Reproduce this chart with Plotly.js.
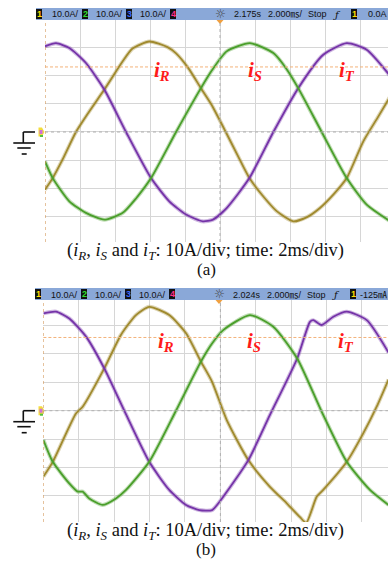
<!DOCTYPE html>
<html>
<head>
<meta charset="utf-8">
<script src="https://cdn.plot.ly/plotly-3.0.1.min.js"></script>
<style>
html, body { margin: 0; padding: 0; background: #fff; }
#plot { width: 388px; height: 565px; }
</style>
</head>
<body>
<div id="plot"></div>
<script>
// ---- Captured phase currents, 10 A/div, 2 ms/div (time in ms, current in A) ----
// Capture (a)
const tR_a = [-10, -9.56, -9, -8.23, -7.5, -6.61, -5.56, -5, -4.04, -3, -2.51, -1.8, -1.09, -0.5, 0.33, 1, 1.68, 2.5, 3.24, 4.19, 5, 5.71, 6.5, 7.24, 8.19, 9, 9.7];
const iR_a = [-20.4, -16.3, -9.8, 0, 7, 15, 25, 29.5, 32, 30, 27.8, 22.5, 15.5, 9.8, 0, -8.2, -16.3, -23, -28, -31.6, -30, -26.9, -22, -16.3, -3.3, 5, 12.3];

const tS_a = [-10, -9.56, -8.61, -7.66, -6.61, -5.56, -4.8, -3.94, -2.51, -1.09, -0.46, 0.38, 1.71, 3.05, 3.8, 4.47, 5.81, 7.24, 8.38, 9.7];
const iS_a = [-10.4, -16.3, -24.5, -28.6, -31, -28.6, -23.5, -16.3, 0, 15.5, 21.8, 28.5, 31.4, 27.9, 22.3, 15.5, 0, -16.3, -25.7, -31.5];

const tT_a = [-10, -9.37, -8.61, -7.66, -6.61, -5.37, -3.94, -2.9, -1.94, -0.99, -0.4, 0.38, 1.68, 3.05, 4.47, 5.9, 7.24, 8.38, 9.7];
const iT_a = [30.3, 31.4, 29.7, 24.4, 15, 0, -16.3, -24.5, -29.2, -31.6, -31, -26.9, -16.3, 0, 15.5, 27.3, 31.4, 29.1, 20];

// Capture (b)
const tR_b = [-10, -9.47, -8.16, -7.78, -6.56, -5.62, -4.77, -4.02, -2.89, -1.94, -1.1, -0.47, 0.36, 1.58, 2.8, 3.75, 4.5, 4.85, 5.44, 5.81, 7.14, 8.07, 8.83, 9.5];
const iR_b = [-23.2, -18, -1, 1.4, 14.9, 26.7, 33.7, 36.6, 33.7, 27.3, 17.3, 10.2, -3.3, -17.4, -26.8, -32.6, -37.5, -39.5, -30.3, -27.9, -18, -8, 1.4, 11];

const tS_b = [-10, -9.47, -8.54, -8.06, -7.78, -7.41, -6.65, -5.9, -5.33, -4.02, -2.51, -1.1, -0.47, 0.16, 1.67, 2.99, 4.34, 5.72, 7.14, 8.45, 9.5];
const iS_b = [-10.3, -18, -25.6, -28.5, -28.5, -30.9, -33.2, -30.9, -27.9, -18, 0, 17.3, 23.7, 28.4, 33.7, 29.6, 18.4, -0.3, -18, -27.9, -33.2];

const tT_b = [-10, -9.29, -8.54, -7.59, -6.56, -5.43, -4.02, -2.89, -1.94, -1.19, -0.47, 0.16, 1.58, 2.8, 4.34, 5.06, 5.25, 5.72, 6.38, 7.14, 8.27, 9.5];
const iT_b = [34.3, 34.9, 32.5, 26.1, 14.9, 0, -18, -27.9, -33.2, -35, -35, -30.3, -17.4, -1.5, 18.4, 31.3, 31.9, 30.2, 33.1, 34.9, 31.9, 20.5];

// Trigger level markers (A)
const levelA = 23;
const levelB = 25.8;

// Scope status-bar texts
const chanNums = ['1', '2', '3', '4'];
const chanScales = ['10.0A/', '10.0A/', '10.0A/'];
const runInfoA = ['2.175s', '2.000\u33B3/', 'Stop'];
const runInfoB = ['2.024s', '2.000\u33B3/', 'Stop'];
const trigTextA = '0.0A';
const trigTextB = '-125\u3383';

const traceLabels = ['<b><i>i</i></b><sub><b><i>R</i></b></sub>',
                     '<b><i>i</i></b><sub><b><i>S</i></b></sub>',
                     '<b><i>i</i></b><sub><b><i>T</i></b></sub>'];
const captionText = '(<i>i</i><sub><i>R</i></sub>, <i>i</i><sub><i>S</i></sub> and <i>i</i><sub><i>T</i></sub>: 10A/div; time: 2ms/div)';
const panelTags = ['(a)', '(b)'];

// ---- drawing ----
const W = 388, H = 565;
const px = x => x / W;
const py = y => 1 - y / H;

const colR = '#a08a2e', colS = '#4a9f2b', colT = '#7533a8';
const chanColors = ['#ffe100', '#2fe02f', '#3d6bff', '#ff2e8a'];

function wave(t, v, color, xa, ya) {
  return [
    { x: t, y: v, xaxis: xa, yaxis: ya, mode: 'lines', hoverinfo: 'skip', opacity: 0.35,
      line: { color: color, width: 4, shape: 'spline', smoothing: 0.6 } },
    { x: t, y: v, xaxis: xa, yaxis: ya, mode: 'lines', hoverinfo: 'skip',
      line: { color: color, width: 1.8, shape: 'spline', smoothing: 0.6 } }
  ];
}

const data = [].concat(
  wave(tR_a, iR_a, colR, 'x', 'y'),
  wave(tT_a, iT_a, colT, 'x', 'y'),
  wave(tS_a, iS_a, colS, 'x', 'y'),
  wave(tR_b, iR_b, colR, 'x2', 'y2'),
  wave(tT_b, iT_b, colT, 'x2', 'y2'),
  wave(tS_b, iS_b, colS, 'x2', 'y2')
);

const shapes = [];
const ann = [];

function pline(x0, y0, x1, y1, color, width, dash) {
  shapes.push({ type: 'line', xref: 'paper', yref: 'paper', x0: px(x0), y0: py(y0), x1: px(x1), y1: py(y1),
    line: { color: color, width: width, dash: dash || 'solid' } });
}
function prect(x0, y0, x1, y1, fill) {
  shapes.push({ type: 'rect', xref: 'paper', yref: 'paper', x0: px(x0), y0: py(y1), x1: px(x1), y1: py(y0),
    fillcolor: fill, line: { width: 0 } });
}
function ptext(x, y, text, size, color, anchor, family) {
  ann.push({ xref: 'paper', yref: 'paper', x: px(x), y: py(y), text: text, showarrow: false,
    xanchor: anchor || 'left', yanchor: 'middle', borderpad: 0,
    font: { family: family || 'Liberation Sans Narrow, Liberation Sans, Arial, sans-serif', size: size, color: color } });
}

const barFont = 'Liberation Sans Narrow, Liberation Sans, Noto Sans CJK JP, sans-serif';

function statusBar(top, dx, info, trig) {
  prect(36 + dx, top, 388, top + 12, '#8aa8d8');
  const boxX = [36, 82, 126, 170];
  const scaleX = [51, 95, 139];
  boxX.forEach((bx, k) => {
    prect(bx + dx, top + 1, bx + dx + 6, top + 11, '#111');
    ptext(bx + dx + 3, top + 6, '<b>' + chanNums[k] + '</b>', 9, chanColors[k], 'center');
  });
  scaleX.forEach((sx, k) => ptext(sx + dx, top + 6.5, chanScales[k], 9, '#111', 'left', barFont));
  ptext(220 + dx, top + 6, '\u263C', 12, '#444', 'center', 'DejaVu Sans');
  const infoX = [233, 267, 307];
  infoX.forEach((ix, k) => ptext(ix + dx, top + 6.5, info[k], 9, '#111', 'left', barFont));
  ptext(337 + dx, top + 6.5, '<i>\u0192</i>', 10, '#111', 'center', 'DejaVu Serif');
  prect(351 + dx, top + 1, 357 + dx, top + 11, '#111');
  ptext(354 + dx, top + 6, '<b>1</b>', 9, chanColors[0], 'center');
  ptext(387.5, top + 6.5, trig, 9, '#111', 'right', barFont);
  // trigger-position marker under the bar
  shapes.push({ type: 'path', xref: 'paper', yref: 'paper',
    path: 'M ' + px(216.5 + dx) + ',' + py(top + 12) + ' L ' + px(223.5 + dx) + ',' + py(top + 12) +
          ' L ' + px(220 + dx) + ',' + py(top + 16) + ' Z',
    fillcolor: '#f0a040', line: { width: 0 } });
}

function ground(yc) {
  pline(23.3, yc, 35, yc, '#111', 1.6);
  pline(23.3, yc, 23.3, yc + 11, '#111', 1.6);
  pline(13.3, yc + 11, 35, yc + 11, '#111', 1.6);
  pline(17.3, yc + 16, 30.7, yc + 16, '#111', 1.6);
  pline(21.7, yc + 22, 26.7, yc + 22, '#111', 1.6);
  // channel ground markers
  shapes.push({ type: 'path', xref: 'paper', yref: 'paper',
    path: 'M ' + px(38.5) + ',' + py(yc - 4.5) + ' L ' + px(42) + ',' + py(yc - 4.5) + ' L ' + px(44.5) + ',' + py(yc) +
          ' L ' + px(42) + ',' + py(yc + 4.5) + ' L ' + px(38.5) + ',' + py(yc + 4.5) + ' Z',
    fillcolor: '#f3dc3a', line: { width: 0 } });
  prect(39.5, yc - 2, 42.5, yc + 2, '#d070d8');
  prect(40, yc + 3, 43, yc + 5, '#55c040');
}

function plotDecor(xa, ya, xr, level) {
  // left edge marker, screen centre lines, trigger level
  shapes.push({ type: 'line', xref: xa, yref: ya + ' domain', x0: xr[0], x1: xr[0], y0: 0, y1: 1,
    line: { color: '#d49a5c', width: 1.2, dash: 'dot' } });
  shapes.push({ type: 'line', xref: xa, yref: ya + ' domain', x0: 0, x1: 0, y0: 0, y1: 1,
    line: { color: '#b0b0b0', width: 1, dash: 'dot' } });
  shapes.push({ type: 'line', xref: xa + ' domain', yref: ya, x0: 0, x1: 1, y0: 0, y1: 0,
    line: { color: '#b0b0b0', width: 1, dash: 'dot' } });
  shapes.push({ type: 'line', xref: xa + ' domain', yref: ya, x0: 0, x1: 1, y0: level, y1: level,
    line: { color: '#f3b27a', width: 1, dash: '3px,2px' } });
}

const xrA = [-10, 9.6];
const xrB = [-10, 9.47];

statusBar(8, 0, runInfoA, trigTextA);
statusBar(288, -1, runInfoB, trigTextB);
ground(132);
ground(410.7);
plotDecor('x', 'y', xrA, levelA);
plotDecor('x2', 'y2', xrB, levelB);

// trace names
const labA = [[162, 71], [255, 71], [347, 71]];
const labB = [[166, 342], [254, 342], [346, 342]];
labA.forEach((p, k) => ptext(p[0], p[1], traceLabels[k], 21, '#ff1a1a', 'center', 'Liberation Serif, serif'));
labB.forEach((p, k) => ptext(p[0], p[1], traceLabels[k], 21, '#ff1a1a', 'center', 'Liberation Serif, serif'));

// captions
ptext(205, 251.5, captionText, 18.5, '#111', 'center', 'Liberation Serif, serif');
ptext(206, 269.5, panelTags[0], 17, '#111', 'center', 'Liberation Serif, serif');
ptext(205, 531.5, captionText, 18.5, '#111', 'center', 'Liberation Serif, serif');
ptext(206, 549.5, panelTags[1], 17, '#111', 'center', 'Liberation Serif, serif');

const gridAxis = {
  showgrid: true, gridcolor: '#d6d6d6', gridwidth: 1, zeroline: false,
  showticklabels: false, ticks: '', showline: false, fixedrange: true
};

const layout = {
  width: W, height: H,
  margin: { l: 0, r: 0, t: 0, b: 0 },
  paper_bgcolor: '#ffffff', plot_bgcolor: '#ffffff',
  showlegend: false,
  xaxis: Object.assign({}, gridAxis, { domain: [px(45), 1], range: xrA, tick0: -10, dtick: 2, anchor: 'y' }),
  yaxis: Object.assign({}, gridAxis, { domain: [py(242), py(20)], range: [-38.9, 39.6], tick0: 0, dtick: 10, anchor: 'x' }),
  xaxis2: Object.assign({}, gridAxis, { domain: [px(43.4), 1], range: xrB, tick0: -10, dtick: 2, anchor: 'y2' }),
  yaxis2: Object.assign({}, gridAxis, { domain: [py(522), py(300)], range: [-39.2, 39.0], tick0: 0, dtick: 10, anchor: 'x2' }),
  shapes: shapes,
  annotations: ann
};

Plotly.newPlot('plot', data, layout, { staticPlot: true, displayModeBar: false });
</script>
</body>
</html>
